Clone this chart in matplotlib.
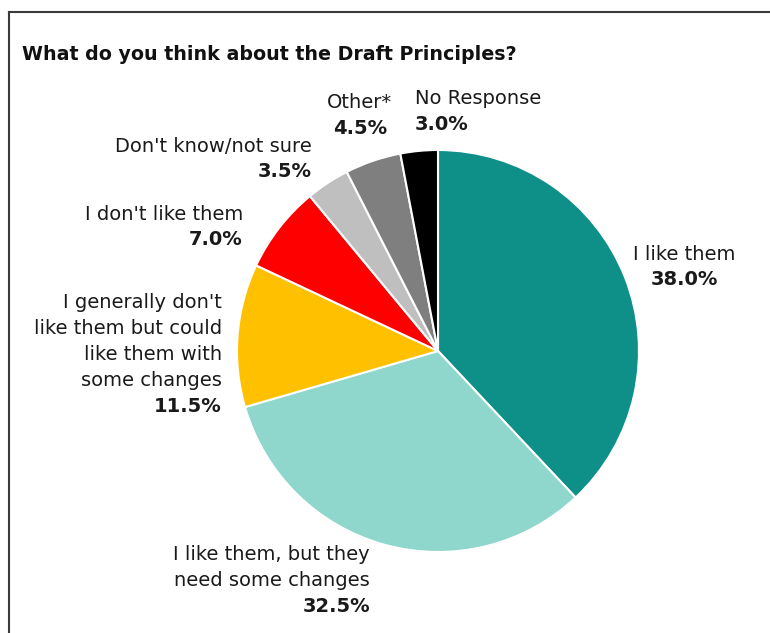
import matplotlib.pyplot as plt
from matplotlib.lines import Line2D

plt.rcParams['font.family'] = ['DejaVu Sans']

# data
categories = [
    "I like them",
    "I like them, but they\nneed some changes",
    "I generally don't\nlike them but could\nlike them with\nsome changes",
    "I don't like them",
    "Don't know/not sure",
    "Other*",
    "No Response",
]
shares = [38.0, 32.5, 11.5, 7.0, 3.5, 4.5, 3.0]
colors = ['#0E8F88', '#8FD6CD', '#FFC000', '#FF0000', '#BFBFBF', '#7F7F7F', '#000000']

W, H = 770, 633
fig = plt.figure(figsize=(W / 100, H / 100), dpi=100)
ax = fig.add_axes([0, 0, 1, 1])
ax.set_xlim(0, W)
ax.set_ylim(0, H)
ax.set_aspect('equal')
ax.axis('off')

# pie in pixel space (center, radius)
ax.pie(shares, colors=colors, startangle=90, counterclock=False,
       center=(438, H - 351), radius=201,
       wedgeprops=dict(edgecolor='white', linewidth=1.5))
ax.set_xlim(0, W)
ax.set_ylim(0, H)

# frame
ax.add_line(Line2D([9, W], [H - 12, H - 12], color='#3a3a3a', lw=1.5))
ax.add_line(Line2D([9, 9], [0, H - 12], color='#3a3a3a', lw=1.5))

ax.text(22, H - 55, "What do you think about the Draft Principles?",
        fontsize=13.7, fontweight='bold', va='center', ha='left', color='#111111')

# label placement: (x, y of first line, horizontal alignment)
label_pos = [
    (684, 254, 'center'),
    (370, 555, 'right'),
    (222, 303, 'right'),
    (243, 214, 'right'),
    (312, 146, 'right'),
    (360, 103, 'center'),
    (415, 99, 'left'),
]
step = 25.8
for name, val, (x, y, ha) in zip(categories, shares, label_pos):
    lines = name.split('\n')
    for i, ln in enumerate(lines):
        ax.text(x, H - (y + i * step), ln, fontsize=14, ha=ha, va='center',
                color='#1a1a1a')
    ax.text(x, H - (y + len(lines) * step), f"{val:.1f}%", fontsize=14,
            fontweight='bold', ha=ha, va='center', color='#1a1a1a')

fig.savefig('out.png', dpi=100)
